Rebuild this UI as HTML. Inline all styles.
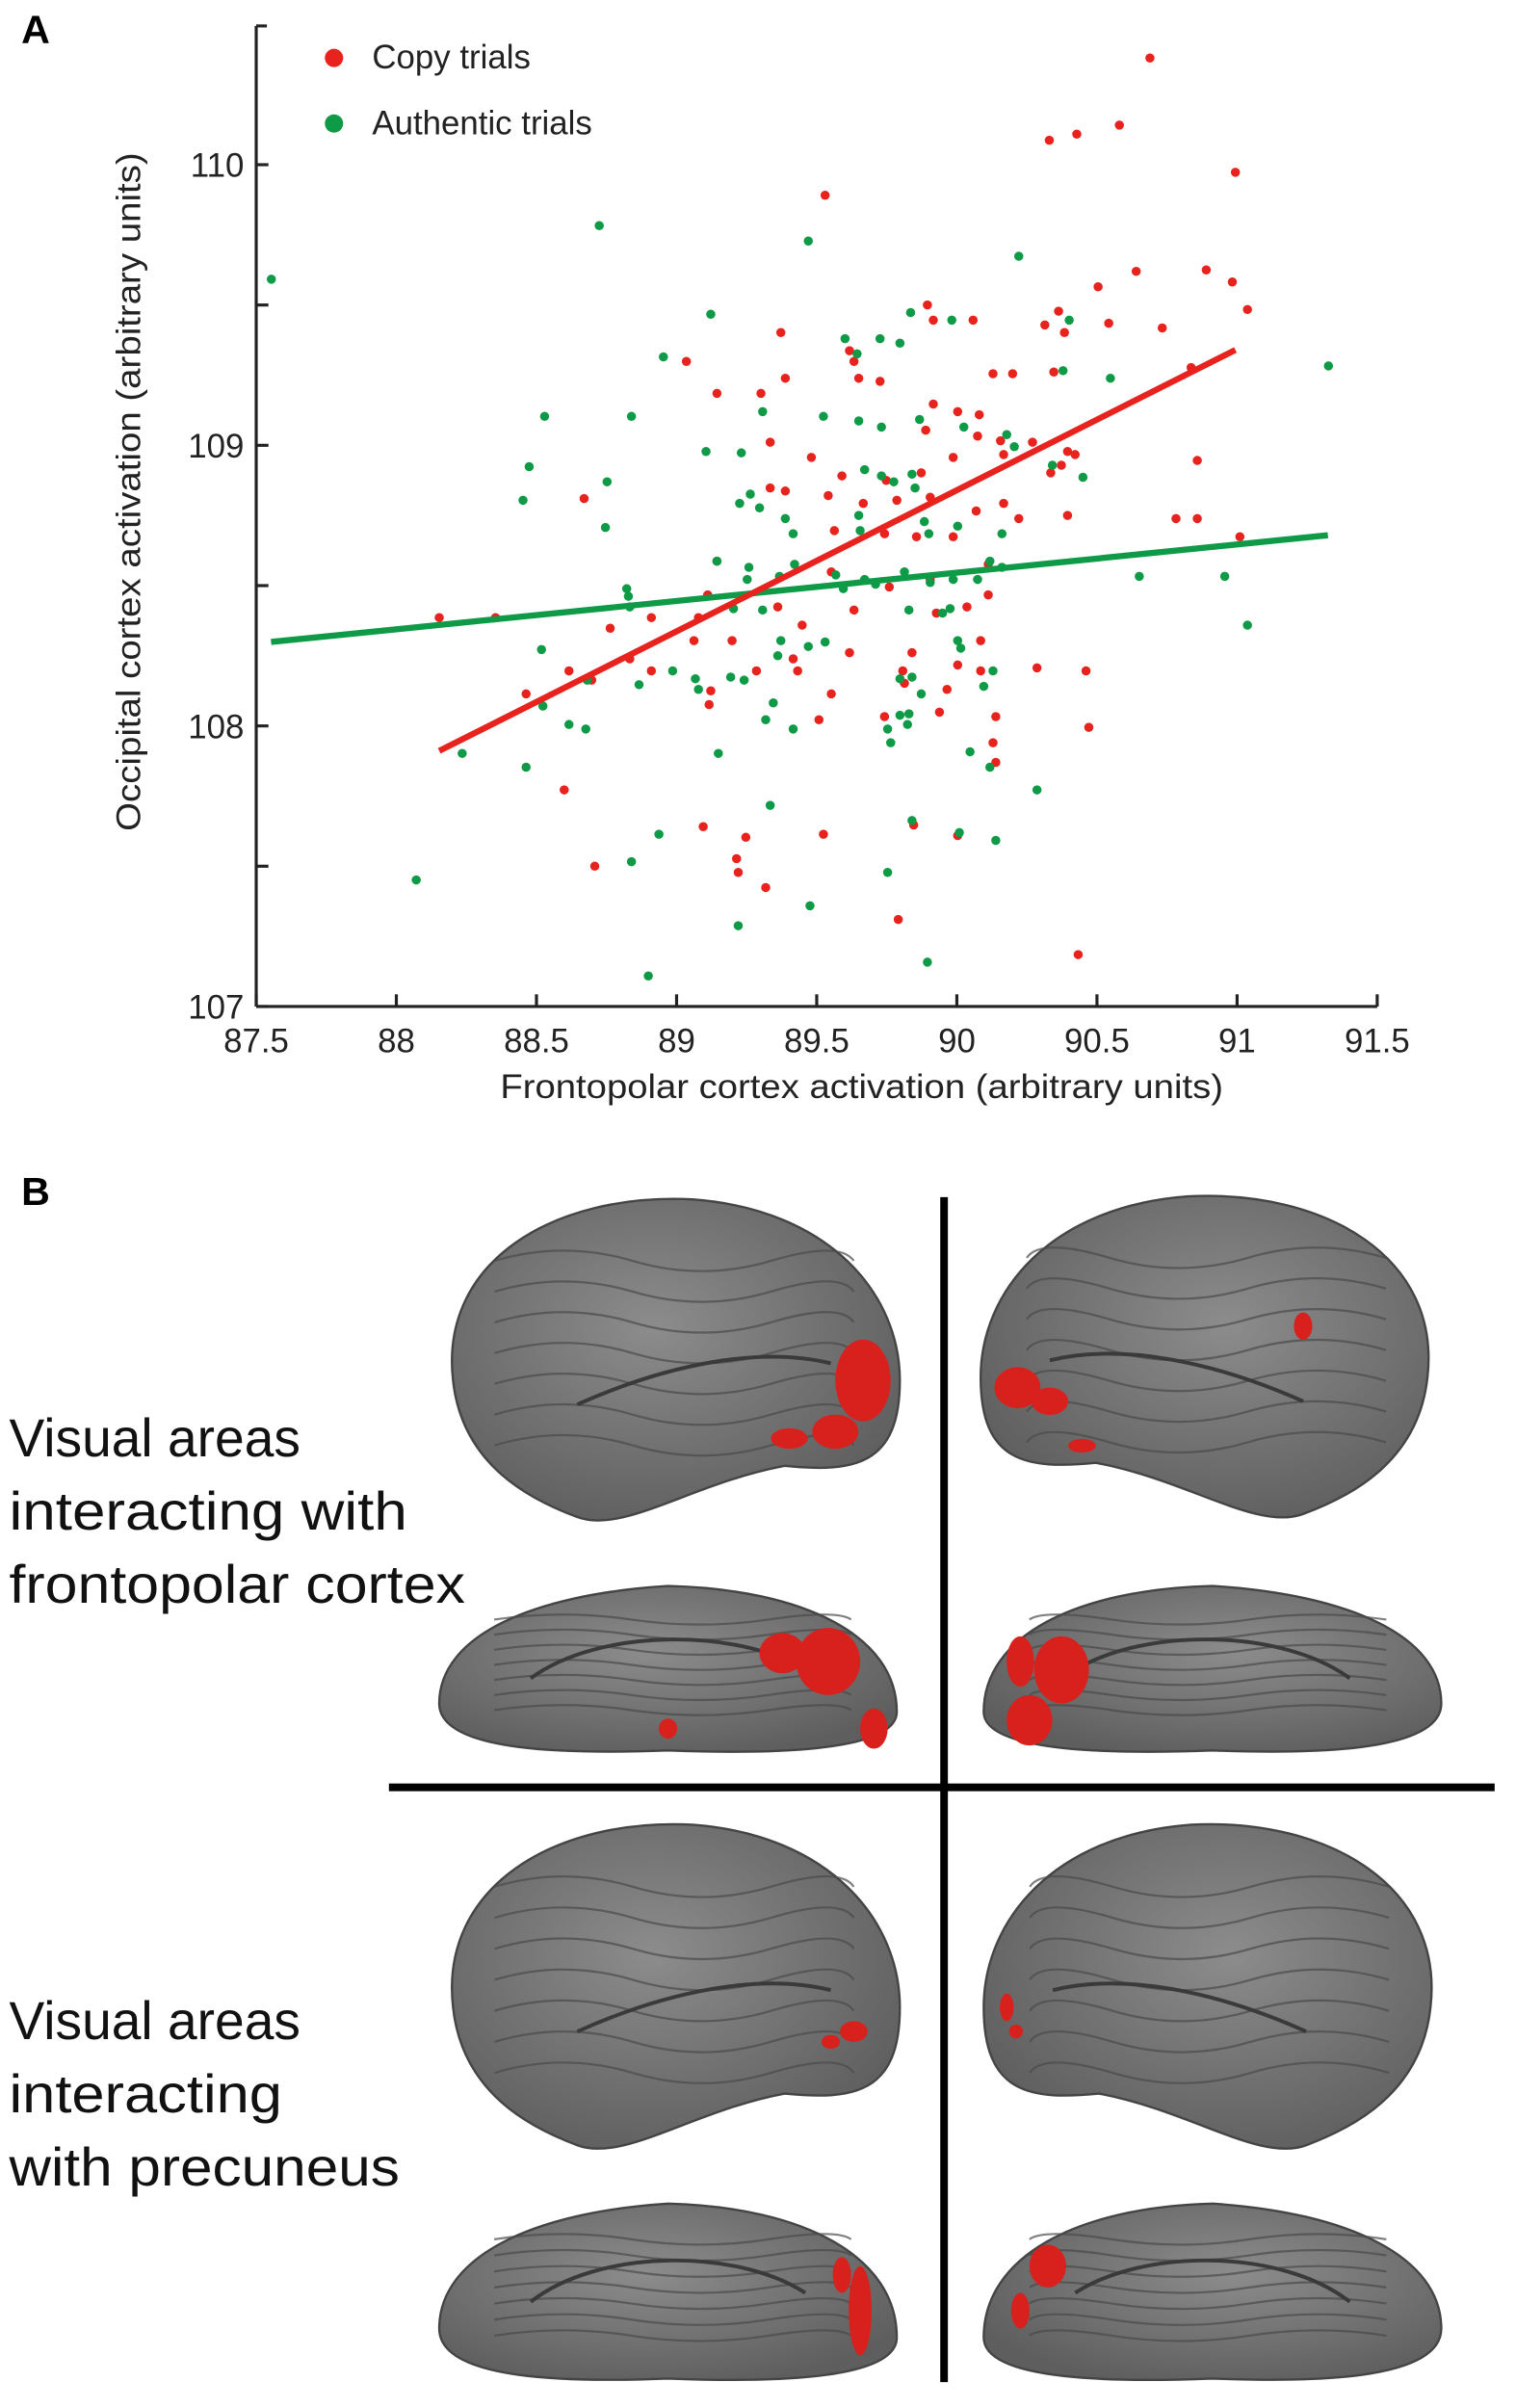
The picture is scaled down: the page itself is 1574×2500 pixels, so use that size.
<!DOCTYPE html>
<html><head><meta charset="utf-8"><style>
html,body{margin:0;padding:0;background:#fff;}
svg{display:block;font-family:"Liberation Sans",sans-serif;}
</style></head><body>
<svg id="fig" width="1574" height="2500" viewBox="0 0 994 1579" preserveAspectRatio="none" xmlns="http://www.w3.org/2000/svg">
<defs>
<radialGradient id="brainG" cx="45%" cy="40%" r="65%"><stop offset="0" stop-color="#8c8c8c"/><stop offset="1" stop-color="#5e5e5e"/></radialGradient>
</defs>
<text x="14" y="28" font-size="26" font-weight="bold">A</text>
<g id="chart"></g>
<text x="14" y="790" font-size="26" font-weight="bold">B</text>
<g id="brains">
 <line x1="619" y1="785" x2="619" y2="1562" stroke="#000" stroke-width="5"/>
 <line x1="255" y1="1172" x2="980" y2="1172" stroke="#000" stroke-width="5"/>
 <g font-size="35" fill="#111">
  <text x="6" y="955" textLength="191" lengthAdjust="spacingAndGlyphs">Visual areas</text><text x="6" y="1003" textLength="261" lengthAdjust="spacingAndGlyphs">interacting with</text><text x="6" y="1051" textLength="299" lengthAdjust="spacingAndGlyphs">frontopolar cortex</text>
 </g>
 <g font-size="35" fill="#111">
  <text x="6" y="1337" textLength="191" lengthAdjust="spacingAndGlyphs">Visual areas</text><text x="6" y="1385" textLength="179" lengthAdjust="spacingAndGlyphs">interacting</text><text x="6" y="1433" textLength="256" lengthAdjust="spacingAndGlyphs">with precuneus</text>
 </g>
</g>
<script>
// ---- chart data ----
const redX=[];const redY=[];const greenX=[];const greenY=[];
const redPx=[[754,38],[706,88],[734,82],[688,92],[810,113],[541,128],[720,188],[745,178],[762,215],[791,177],[808,185],[818,203],[685,213],[694,204],[727,212],[698,218],[608,200],[612,210],[638,210],[651,245],[664,245],[691,244],[781,241],[512,218],[557,230],[560,237],[563,248],[450,237],[470,258],[499,258],[515,248],[577,250],[612,265],[628,270],[642,272],[607,282],[641,286],[656,289],[677,290],[700,296],[505,290],[532,300],[552,312],[581,315],[604,310],[625,300],[658,298],[689,310],[696,305],[705,298],[785,302],[383,327],[505,320],[515,322],[543,325],[566,330],[588,328],[610,326],[640,335],[658,330],[547,348],[580,350],[601,352],[625,352],[668,340],[700,338],[771,340],[813,352],[470,368],[545,375],[583,385],[610,380],[648,370],[464,390],[458,405],[510,398],[526,410],[560,400],[614,402],[634,398],[648,390],[288,405],[325,405],[400,412],[427,405],[455,420],[480,420],[520,432],[557,428],[592,440],[598,428],[628,436],[643,420],[373,440],[388,446],[413,432],[427,440],[466,453],[496,440],[523,440],[545,455],[593,448],[621,452],[643,440],[680,438],[712,440],[465,462],[345,455],[537,472],[580,470],[616,467],[653,470],[714,477],[651,487],[653,500],[370,518],[461,542],[483,563],[489,549],[502,582],[540,547],[599,541],[484,572],[390,568],[589,603],[707,626],[628,548],[785,340]];
const greenPx=[[178,183],[393,148],[530,158],[668,168],[701,210],[466,206],[435,234],[554,222],[562,232],[577,222],[597,205],[624,210],[590,225],[728,248],[697,243],[357,273],[414,273],[463,296],[347,306],[398,316],[343,328],[397,346],[486,297],[500,270],[540,273],[563,276],[578,280],[603,275],[632,280],[660,285],[665,293],[492,324],[485,330],[498,333],[515,340],[520,350],[567,308],[578,312],[586,316],[598,311],[600,320],[606,342],[563,338],[628,345],[564,348],[609,350],[690,305],[657,350],[710,313],[470,368],[491,372],[490,380],[511,378],[521,370],[548,377],[553,386],[567,380],[574,383],[593,375],[610,382],[625,380],[649,368],[641,380],[657,372],[411,386],[412,391],[413,398],[481,399],[500,400],[596,400],[618,402],[623,399],[747,378],[803,378],[355,426],[385,446],[419,449],[441,440],[456,445],[458,452],[479,444],[488,446],[507,461],[512,420],[510,430],[530,424],[541,421],[590,445],[598,444],[604,455],[628,420],[630,425],[651,440],[645,450],[356,463],[373,475],[384,478],[471,494],[520,478],[582,478],[584,487],[590,469],[596,468],[303,494],[345,503],[502,472],[636,493],[649,503],[680,518],[505,528],[432,547],[598,538],[629,546],[653,551],[273,577],[414,565],[582,572],[484,607],[531,594],[425,640],[608,631],[818,410],[871,240],[595,475]];
for(const p of redPx){redX.push(+(87.5+(p[0]-168)/183.75).toFixed(3));redY.push(+(107+(660-p[1])/184).toFixed(3));}
for(const p of greenPx){greenX.push(+(87.5+(p[0]-168)/183.75).toFixed(3));greenY.push(+(107+(660-p[1])/184).toFixed(3));}
const xTicks=[87.5,88,88.5,89,89.5,90,90.5,91,91.5];
const yTicks=[107,107.5,108,108.5,109,109.5,110];
const yTickLabels=["107","","108","","109","","110"];
const redFit=[0.503,63.57,88.153,90.994];
const greenFit=[0.1008,99.474,87.553,91.324];

const NS="http://www.w3.org/2000/svg";
const X0=168,X1=903,Y0=660,Y1=108;
function sx(v){return X0+(v-87.5)/4*(X1-X0);}
function sy(v){return Y0-(v-107)/3*(Y0-Y1);}
const g=document.getElementById('chart');
function mk(tag,attrs,parent){const e=document.createElementNS(NS,tag);for(const k in attrs)e.setAttribute(k,attrs[k]);(parent||g).appendChild(e);return e;}

let e=mk('line',{x1:X0,y1:17,x2:X0,y2:Y0,stroke:'#222','stroke-width':2});


e=mk('line',{x1:X0,y1:Y0,x2:X1,y2:Y0,stroke:'#222','stroke-width':2});


mk('line',{x1:X0,y1:17,x2:X0+7,y2:17,stroke:'#222','stroke-width':2});
xTicks.forEach(v=>{
 mk('line',{x1:sx(v),y1:Y0,x2:sx(v),y2:Y0-8,stroke:'#222','stroke-width':2});
 const t=mk('text',{x:sx(v),y:Y0+30,'font-size':22,'text-anchor':'middle',fill:'#222'});
 t.textContent=v;
 
 
});
yTicks.forEach((v,i)=>{
 mk('line',{x1:X0,y1:sy(v),x2:X0+8,y2:sy(v),stroke:'#222','stroke-width':2});
 if(yTickLabels[i]){const t=mk('text',{x:X0-8,y:sy(v)+8,'font-size':22,'text-anchor':'end',fill:'#222'});
 t.textContent=yTickLabels[i];
 
 }
});
e=mk('text',{x:328,y:720,'font-size':22,fill:'#222',textLength:474,lengthAdjust:'spacingAndGlyphs'});
e.textContent='Frontopolar cortex activation (arbitrary units)';


e=mk('text',{x:-222,y:0,'font-size':22,fill:'#222',textLength:445,lengthAdjust:'spacingAndGlyphs',transform:'translate(92,323) rotate(-90)'});
e.textContent='Occipital cortex activation (arbitrary units)';



redX.forEach((v,i)=>{const c=mk('circle',{cx:sx(v),cy:sy(redY[i]),r:3,fill:'#e8221c'});
 
 });
greenX.forEach((v,i)=>{const c=mk('circle',{cx:sx(v),cy:sy(greenY[i]),r:3,fill:'#0f9a48'});
 
 });
e=mk('line',{x1:sx(greenFit[2]),y1:sy(greenFit[0]*greenFit[2]+greenFit[1]),x2:sx(greenFit[3]),y2:sy(greenFit[0]*greenFit[3]+greenFit[1]),stroke:'#0f9a48','stroke-width':4});


e=mk('line',{x1:sx(redFit[2]),y1:sy(redFit[0]*redFit[2]+redFit[1]),x2:sx(redFit[3]),y2:sy(redFit[0]*redFit[3]+redFit[1]),stroke:'#e8221c','stroke-width':4});


e=mk('circle',{cx:219,cy:38,r:6,fill:'#e8221c'});


e=mk('text',{x:244,y:45,'font-size':22,fill:'#222'});e.textContent='Copy trials';


e=mk('circle',{cx:219,cy:81,r:6,fill:'#0f9a48'});


e=mk('text',{x:244,y:88,'font-size':22,fill:'#222'});e.textContent='Authentic trials';



// ---- brains ----
const bg=document.getElementById('brains');
function brain(x0,y0,w,h,lateral,flip,reds,name){
 const gg=mk('g',{},bg);
 
 
 let d;
 if(lateral){
  d=`M${x0+0.03*w},${y0+0.55*h} C${x0},${y0+0.2*h} ${x0+0.25*w},${y0} ${x0+0.55*w},${y0+0.02*h} C${x0+0.85*w},${y0+0.05*h} ${x0+w},${y0+0.3*h} ${x0+w},${y0+0.55*h} C${x0+w},${y0+0.8*h} ${x0+0.9*w},${y0+0.82*h} ${x0+0.75*w},${y0+0.8*h} C${x0+0.55*w},${y0+0.85*h} ${x0+0.4*w},${y0+h} ${x0+0.3*w},${y0+0.95*h} C${x0+0.2*w},${y0+0.9*h} ${x0+0.05*w},${y0+0.8*h} ${x0+0.03*w},${y0+0.55*h} Z`;
 } else {
  d=`M${x0},${y0+0.7*h} C${x0},${y0+0.3*h} ${x0+0.2*w},${y0+0.05*h} ${x0+0.5*w},${y0} C${x0+0.8*w},${y0+0.02*h} ${x0+w},${y0+0.3*h} ${x0+w},${y0+0.75*h} C${x0+w},${y0+h} ${x0+0.7*w},${y0+h} ${x0+0.5*w},${y0+0.98*h} C${x0+0.3*w},${y0+h} ${x0},${y0+h} ${x0},${y0+0.7*h} Z`;
 }
 const tr=flip?`translate(${2*x0+w},0) scale(-1,1)`:'';
 const inner=mk('g',{transform:tr},gg);
 mk('path',{d:d,fill:'url(#brainG)',stroke:'#444','stroke-width':1.5},inner);
 for(let i=0;i<7;i++){
  const yy=y0+h*(0.2+i*0.09);
  mk('path',{d:`M${x0+0.12*w},${yy} q${0.15*w},${-0.06*h} ${0.3*w},0 t${0.3*w},0 t${0.18*w},0`,fill:'none',stroke:'#4a4a4a','stroke-width':1.4,opacity:0.7},inner);
 }
 if(lateral) mk('path',{d:`M${x0+0.3*w},${y0+0.62*h} C${x0+0.5*w},${y0+0.5*h} ${x0+0.7*w},${y0+0.45*h} ${x0+0.85*w},${y0+0.5*h}`,fill:'none',stroke:'#3a3a3a','stroke-width':2.5},inner);
 else mk('path',{d:`M${x0+0.2*w},${y0+0.55*h} C${x0+0.35*w},${y0+0.25*h} ${x0+0.65*w},${y0+0.25*h} ${x0+0.8*w},${y0+0.5*h}`,fill:'none',stroke:'#3a3a3a','stroke-width':2.5},inner);
 reds.forEach(r=>{const c=mk('ellipse',{cx:x0+r[0]*w,cy:y0+r[1]*h,rx:r[2]*w,ry:r[3]*h,fill:'#d8201c'},inner);
  
  });
}
brain(288,782,302,224,true,false,[[0.92,0.55,0.06,0.12],[0.86,0.7,0.05,0.05],[0.76,0.72,0.04,0.03]],'brain-row1-left-lateral');
brain(643,780,302,224,true,true,[[0.92,0.58,0.05,0.06],[0.85,0.62,0.04,0.04],[0.78,0.75,0.03,0.02],[0.3,0.4,0.02,0.04]],'brain-row1-right-lateral');
brain(288,1040,300,110,false,false,[[0.85,0.45,0.07,0.2],[0.75,0.4,0.05,0.12],[0.95,0.85,0.03,0.12],[0.5,0.85,0.02,0.06]],'brain-row1-left-medial');
brain(645,1040,300,110,false,true,[[0.83,0.5,0.06,0.2],[0.9,0.8,0.05,0.15],[0.92,0.45,0.03,0.15]],'brain-row1-right-medial');
brain(288,1192,302,226,true,false,[[0.9,0.62,0.03,0.03],[0.85,0.65,0.02,0.02]],'brain-row2-left-lateral');
brain(645,1192,302,226,true,true,[[0.95,0.55,0.015,0.04],[0.93,0.62,0.015,0.02]],'brain-row2-right-lateral');
brain(288,1445,300,117,false,false,[[0.92,0.6,0.025,0.25],[0.88,0.4,0.02,0.1]],'brain-row2-left-medial');
brain(645,1445,300,117,false,true,[[0.86,0.35,0.04,0.12],[0.92,0.6,0.02,0.1]],'brain-row2-right-medial');
</script>
</svg>
</body></html>
